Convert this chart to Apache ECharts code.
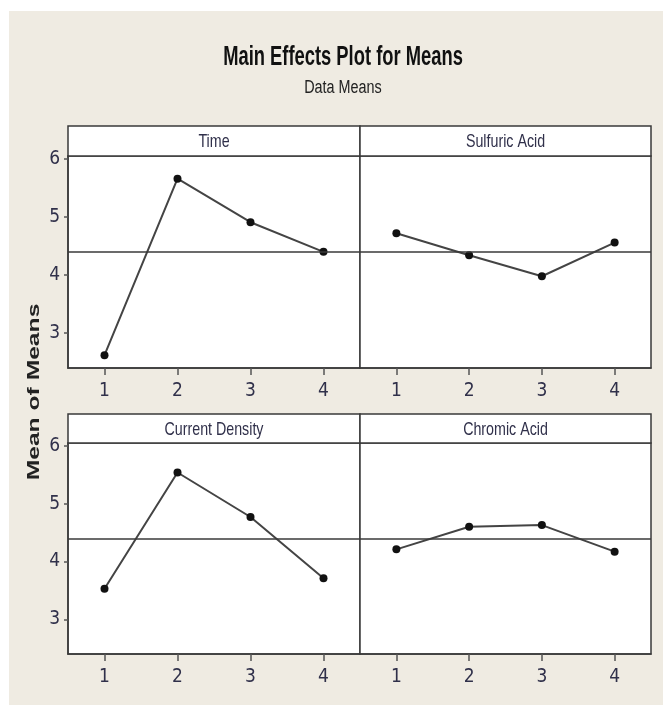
<!DOCTYPE html>
<html>
<head>
<meta charset="utf-8">
<title>Main Effects Plot for Means</title>
<script src="https://cdn.jsdelivr.net/npm/echarts@6/dist/echarts.min.js"></script>
<style>
    body { margin: 0; background: #fff; }
    #bg { position: absolute; left: 9px; top: 11px; width: 654px; height: 694px; background: #efebe2; }
    #chart { position: absolute; left: 0; top: 0; width: 663px; height: 705px; }
</style>
</head>
<body>
<div id="bg"></div>
<div id="chart"></div>
<script>
// factor levels and the means
const levels = [1, 2, 3, 4]
const timeMeans = [2.62, 5.66, 4.91, 4.40]
const sulfuricMeans = [4.72, 4.34, 3.98, 4.56]
const currentMeans = [3.53, 5.54, 4.77, 3.71]
const chromicMeans = [4.21, 4.60, 4.63, 4.17]
const grandMean = 4.40
const yTicks = [3, 4, 5, 6]
const panelNames = ['Time', 'Sulfuric Acid', 'Current Density', 'Chromic Acid']
const panelData = [timeMeans, sulfuricMeans, currentMeans, chromicMeans]

const labelFont = '"Liberation Sans Narrow", "DejaVu Sans Condensed", "Liberation Sans", sans-serif'
const textColor = '#30304a'
const frameColor = '#3a3a3a'

// panel boxes: [left, stripTop, top, width, height]
const panels = [
    [68, 126, 156, 292, 212],
    [360, 126, 156, 291, 212],
    [68, 414, 443, 292, 211],
    [360, 414, 443, 291, 211]
]

let grids = [], xAxes = [], yAxes = [], series = [], graphics = []

panels.forEach((p, i) => {
    let isLeft = i % 2 === 0
    grids.push({
        left: p[0], top: p[2], width: p[3], height: p[4],
        show: true, backgroundColor: '#fff',
        borderColor: frameColor, borderWidth: 1.5
    })
    xAxes.push({
        type: 'value', gridIndex: i, min: 0.5, max: 4.5,
        axisLine: { show: true, lineStyle: { color: frameColor, width: 1.5 } },
        axisTick: { show: true, inside: false, length: 7, customValues: levels, lineStyle: { color: '#555', width: 1.5 } },
        axisLabel: { customValues: levels, margin: 14, color: textColor, fontFamily: labelFont, fontSize: 19 },
        splitLine: { show: false }
    })
    yAxes.push({
        type: 'value', gridIndex: i, min: 2.4, max: 6.05,
        show: isLeft,
        axisLine: { show: true, lineStyle: { color: frameColor, width: 1.5 } },
        axisTick: { show: true, inside: false, length: 4, customValues: yTicks, lineStyle: { color: '#555', width: 1.5 } },
        axisLabel: { customValues: yTicks, margin: 8, color: textColor, fontFamily: labelFont, fontSize: 19 },
        splitLine: { show: false }
    })
    series.push({
        name: panelNames[i], type: 'line',
        xAxisIndex: i, yAxisIndex: i,
        data: levels.map((lv, k) => [lv, panelData[i][k]]),
        symbol: 'circle', symbolSize: 8,
        itemStyle: { color: '#111' },
        lineStyle: { color: '#444', width: 2 },
        silent: true,
        markLine: {
            silent: true, symbol: 'none', label: { show: false },
            lineStyle: { color: '#3a3a3a', width: 1.5, type: 'solid' },
            data: [{ yAxis: grandMean }]
        }
    })
    // strip header with the factor name
    graphics.push({
        type: 'rect',
        shape: { x: p[0], y: p[1], width: p[3], height: p[2] - p[1] },
        style: { fill: '#fff', stroke: frameColor, lineWidth: 1.5 }
    })
    graphics.push({
        type: 'text', x: p[0] + p[3] / 2, y: (p[1] + p[2]) / 2 + 1,
        scaleX: 0.75,
        style: { text: panelNames[i], fill: textColor, font: '19px "Liberation Sans", Arial, sans-serif', align: 'center', verticalAlign: 'middle' }
    })
})

graphics.push({
    type: 'text', x: 343, y: 58, scaleX: 0.68,
    style: { text: 'Main Effects Plot for Means', fill: '#111', font: 'bold 27px "Liberation Sans", Arial, sans-serif', align: 'center', verticalAlign: 'middle' }
})
graphics.push({
    type: 'text', x: 343, y: 88, scaleX: 0.8,
    style: { text: 'Data Means', fill: '#222', font: '18px "Liberation Sans", Arial, sans-serif', align: 'center', verticalAlign: 'middle' }
})
graphics.push({
    type: 'text', x: 34, y: 392, rotation: Math.PI / 2, scaleX: 1.45,
    style: { text: 'Mean of Means', fill: '#222', font: 'bold 17px "Liberation Sans", Arial, sans-serif', align: 'center', verticalAlign: 'middle' }
})

let option = {
    animation: false,
    backgroundColor: 'transparent',
    grid: grids,
    xAxis: xAxes,
    yAxis: yAxes,
    series: series,
    graphic: { elements: graphics }
}

let chart = echarts.init(document.getElementById('chart'))
chart.setOption(option)
window.addEventListener('resize', () => {
    chart.resize()
})
</script>
</body>
</html>
